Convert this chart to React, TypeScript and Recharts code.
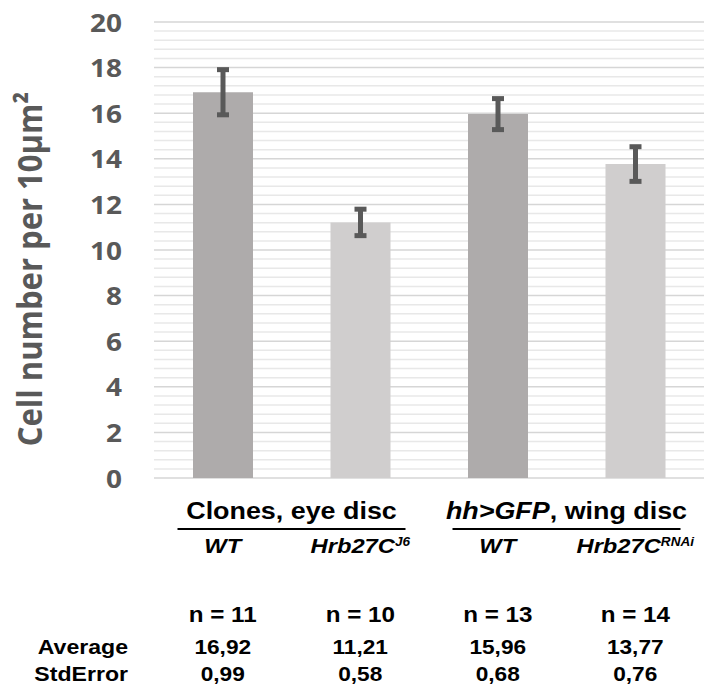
import React from 'react';
import {BarChart, Bar, XAxis, YAxis, ErrorBar, Cell, CartesianGrid} from 'recharts';

// ── Data ────────────────────────────────────────────────────

const categoryKeys = ['clone-wt', 'clone-j6', 'wing-wt', 'wing-rnai'];
const genotypes = ['WT', 'Hrb27C', 'WT', 'Hrb27C'];
const superscripts = ['', 'J6', '', 'RNAi'];
const averages = [16.92, 11.21, 15.96, 13.77];
const stdErrors = [0.99, 0.58, 0.68, 0.76];
const sampleSizes = [11, 10, 13, 14];
const groupLabels = ['Clones, eye disc', 'hh>GFP, wing disc'];
const yTicks = [0, 2, 4, 6, 8, 10, 12, 14, 16, 18, 20];

// ── Layout / style ──────────────────────────────────────────

const W = 707;
const H = 692;
const PLOT_LEFT = 154;
const PLOT_RIGHT = 704;
const PLOT_TOP = 22;
const PLOT_BOTTOM = 478;
const BAND = (PLOT_RIGHT - PLOT_LEFT) / categoryKeys.length;

const DARK_BAR = '#aeabab';
const LIGHT_BAR = '#d0cece';
const AXIS_TEXT = '#595959';
const ARIAL = "'Liberation Sans', Arial, sans-serif";
const CALIBRI = "'Open Sans', sans-serif";

const barColors = [DARK_BAR, LIGHT_BAR, DARK_BAR, LIGHT_BAR];

// minor gridlines every 0.4
const minorLines = Array.from({length: 51}, (_, i) => +(i * 0.4).toFixed(1)).filter(
  (v) => Math.abs(v / 2 - Math.round(v / 2)) > 1e-6,
);

const chartData = categoryKeys.map((key, i) => ({
  key,
  avg: averages[i],
  err: stdErrors[i],
}));

const fmt = (v: number) => v.toFixed(2).replace('.', ',');

// ── Ticks ───────────────────────────────────────────────────

function YTick({x, y, payload}: any) {
  return (
    <text
      transform={`translate(${x},${y + 9.5}) scale(1.12,1)`}
      textAnchor="end"
      fontFamily={CALIBRI}
      fontWeight={700}
      fontSize={25}
      fill={AXIS_TEXT}
    >
      {payload.value}
    </text>
  );
}

function CategoryTick({x, payload}: any) {
  const i = categoryKeys.indexOf(payload.value);
  if (i < 0) return null;
  const groupCenter = x + BAND / 2;
  return (
    <g fontFamily={ARIAL} fontWeight={700} fill="#000">
      {i % 2 === 0 && (
        <g>
          <text
            transform={`translate(${groupCenter},519) scale(1.12,1)`}
            textAnchor="middle"
            fontSize={24}
          >
            {i === 0 ? (
              groupLabels[0]
            ) : (
              <>
                <tspan fontStyle="italic">hh&gt;GFP</tspan>
                <tspan>, wing disc</tspan>
              </>
            )}
          </text>
          <line x1={groupCenter - 114} x2={groupCenter + 114} y1={529} y2={529} stroke="#000" strokeWidth={2} />
        </g>
      )}
      <text
        transform={`translate(${x},553) scale(1.13,1)`}
        textAnchor="middle"
        fontSize={21}
        fontStyle="italic"
      >
        {genotypes[i]}
        {superscripts[i] && (
          <tspan fontSize={12} dy={-7}>
            {superscripts[i]}
          </tspan>
        )}
      </text>
      <text transform={`translate(${x},622) scale(1.1,1)`} textAnchor="middle" fontSize={22}>
        n = {sampleSizes[i]}
      </text>
      <text transform={`translate(${x},654) scale(1.08,1)`} textAnchor="middle" fontSize={21}>
        {fmt(averages[i])}
      </text>
      <text transform={`translate(${x},681) scale(1.08,1)`} textAnchor="middle" fontSize={21}>
        {fmt(stdErrors[i])}
      </text>
    </g>
  );
}

// ── Chart ───────────────────────────────────────────────────

export default function App() {
  return (
    <div style={{position: 'absolute', left: 0, top: 0, width: W, height: H, background: '#fff'}}>
      <BarChart
        width={W}
        height={H}
        data={chartData}
        margin={{top: PLOT_TOP, right: W - PLOT_RIGHT, left: 0, bottom: 0}}
      >
        <CartesianGrid
          vertical={false}
          horizontalValues={minorLines}
          stroke="#e8e8e8"
          strokeWidth={1.5}
        />
        <CartesianGrid vertical={false} horizontalValues={yTicks} stroke="#d6d6d6" strokeWidth={1.5} />
        <XAxis
          dataKey="key"
          height={H - PLOT_BOTTOM}
          axisLine={false}
          tickLine={false}
          interval={0}
          tick={<CategoryTick />}
        />
        <YAxis
          domain={[0, 20]}
          ticks={yTicks}
          interval={0}
          width={PLOT_LEFT}
          axisLine={false}
          tickLine={false}
          tickSize={0}
          tickMargin={32}
          tick={<YTick />}
        />
        <Bar dataKey="avg" barSize={60} isAnimationActive={false}>
          {chartData.map((d, i) => (
            <Cell key={d.key} fill={barColors[i]} />
          ))}
          <ErrorBar dataKey="err" width={6} stroke="#595959" strokeWidth={5} isAnimationActive={false} />
        </Bar>
      </BarChart>
      <svg
        width={W}
        height={H}
        style={{position: 'absolute', left: 0, top: 0, pointerEvents: 'none'}}
      >
        <text
          transform="translate(42,269) scale(1.12,1) rotate(-90)"
          textAnchor="middle"
          fontFamily={CALIBRI}
          fontWeight={700}
          fontSize={31}
          fill={AXIS_TEXT}
        >
          Cell number per 10µm²
        </text>
        <g fontFamily={ARIAL} fontWeight={700} fontSize={21} fill="#000">
          <text transform="translate(128,654) scale(1.1,1)" textAnchor="end">
            Average
          </text>
          <text transform="translate(128,681) scale(1.1,1)" textAnchor="end">
            StdError
          </text>
        </g>
      </svg>
    </div>
  );
}
